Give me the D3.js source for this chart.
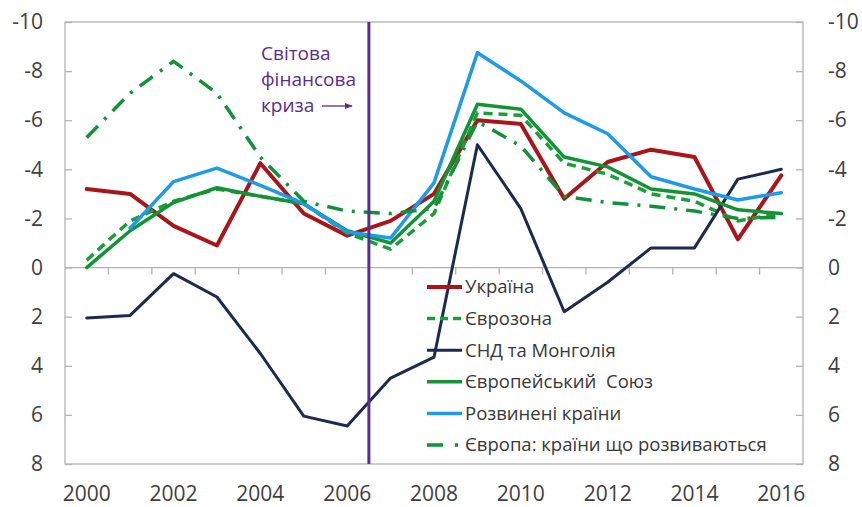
<!DOCTYPE html>
<html>
<head>
<meta charset="utf-8">
<script src="https://cdn.jsdelivr.net/npm/d3@7"></script>
<style>
  html, body { margin: 0; padding: 0; background: #fff; }
  svg { display: block; font-family: "Open Sans", "Noto Sans", sans-serif; }
</style>
</head>
<body>
<svg id="chart" width="862" height="507"></svg>
<script>
// ---- Data ----
const years = [2000,2001,2002,2003,2004,2005,2006,2007,2008,2009,2010,2011,2012,2013,2014,2015,2016];
const xTickYears = [2000,2002,2004,2006,2008,2010,2012,2014,2016];
const yTicks = [-10,-8,-6,-4,-2,0,2,4,6,8];

const ukraine   = [-3.2,-3.0,-1.7,-0.9,-4.25,-2.2,-1.3,-1.9,-3.0,-6.0,-5.85,-2.8,-4.3,-4.8,-4.5,-1.15,-3.75];
const eurozone  = [-0.3,-1.9,-2.7,-3.2,-2.9,-2.6,-1.4,-0.75,-2.2,-6.3,-6.2,-4.25,-3.8,-3.0,-2.7,-1.9,-2.2];
const cis       = [2.05,1.95,0.25,1.2,3.5,6.05,6.45,4.5,3.65,-5.0,-2.4,1.8,0.6,-0.8,-0.8,-3.6,-4.0];
const eu        = [0.0,-1.5,-2.65,-3.25,-2.9,-2.6,-1.5,-1.0,-2.7,-6.65,-6.45,-4.5,-4.1,-3.2,-3.0,-2.35,-2.2];
const developed = [null,-1.6,-3.5,-4.05,-3.35,-2.6,-1.45,-1.2,-3.45,-8.75,-7.6,-6.3,-5.45,-3.7,-3.2,-2.75,-3.05];
const emerging  = [-5.3,-7.1,-8.4,-7.1,-4.5,-2.7,-2.3,-2.2,-2.4,-5.95,-4.95,-2.9,-2.65,-2.5,-2.3,-2.0,-2.05];

const seriesNames = ["Україна","Єврозона","СНД та Монголія","Європейський  Союз","Розвинені країни","Європа: країни що розвиваються"];
const seriesValues = [ukraine, eurozone, cis, eu, developed, emerging];
const crisisPosition = 2006.5;
const annotationLines = ["Світова","фінансова","криза"];

// ---- Styles ----
const styles = [
  {color:"#a8161b", width:4,   dash:null},
  {color:"#1a9e3a", width:3.5, dash:"9,6"},
  {color:"#1b2a4e", width:3,   dash:null},
  {color:"#129336", width:3.5, dash:null},
  {color:"#1e9be8", width:3.5, dash:null},
  {color:"#11913a", width:3.5, dash:"16,9,3,9"}
];
const legendDash = [null,"8,5",null,null,null,"16,12,3,12"];

const svg = d3.select("#chart");
const L = 65, R = 803, T = 22, B = 464;

const x = d3.scaleBand().domain(years).range([L, R]).paddingInner(0).paddingOuter(0);
const cx = d => x(d) + x.bandwidth()/2;
const y = d3.scaleLinear().domain([-10, 8]).range([T, B]);

// border
svg.append("rect").attr("x",L).attr("y",T).attr("width",R-L).attr("height",B-T)
  .attr("fill","none").attr("stroke","#b3b3b3").attr("stroke-width",1.3);

// zero line
svg.append("line").attr("x1",L).attr("x2",R).attr("y1",y(0)).attr("y2",y(0))
  .attr("stroke","#b3b3b3").attr("stroke-width",1.3);

// x ticks at band boundaries (downward from zero line)
svg.append("g").selectAll("line").data(years.slice(1)).join("line")
  .attr("x1",d=>x(d)).attr("x2",d=>x(d))
  .attr("y1",y(0)).attr("y2",y(0)+7)
  .attr("stroke","#b3b3b3").attr("stroke-width",1.3);

// Y axes
const fmt = d => String(d);
const leftAxis = svg.append("g").attr("transform",`translate(${L},0)`)
  .call(d3.axisLeft(y).tickValues(yTicks).tickSize(-7).tickPadding(22).tickFormat(fmt));
const rightAxis = svg.append("g").attr("transform",`translate(${R},0)`)
  .call(d3.axisRight(y).tickValues(yTicks).tickSize(-7).tickPadding(25).tickFormat(fmt));
[leftAxis, rightAxis].forEach(g => {
  g.select(".domain").remove();
  g.selectAll(".tick line").attr("stroke","#b3b3b3").attr("stroke-width",1.3);
  g.selectAll(".tick text").attr("fill","#404040").style("font-size","21px")
    .style("font-family","'Open Sans', sans-serif");
});

// X labels
svg.append("g").selectAll("text").data(xTickYears).join("text")
  .attr("x",d=>cx(d)).attr("y",501)
  .attr("text-anchor","middle").attr("fill","#404040")
  .style("font-size","21px").text(d=>d);

// Lines
const line = d3.line().defined(d => d.v !== null).x(d => cx(d.year)).y(d => y(d.v));
seriesValues.forEach((vals, i) => {
  const data = years.map((yr, j) => ({year: yr, v: vals[j]}));
  const p = svg.append("path").datum(data).attr("d", line)
    .attr("fill","none").attr("stroke",styles[i].color)
    .attr("stroke-width",styles[i].width)
    .attr("stroke-linejoin","round").attr("stroke-linecap", styles[i].dash ? "butt" : "round");
  if (styles[i].dash) p.attr("stroke-dasharray", styles[i].dash);
});

// crisis line
const xc = d3.scaleLinear().domain([2000, 2016]).range([cx(2000), cx(2016)]);
svg.append("line").attr("x1",xc(crisisPosition)).attr("x2",xc(crisisPosition))
  .attr("y1",T).attr("y2",B).attr("stroke","#5a2d91").attr("stroke-width",3);

// annotation
const ann = svg.append("g").attr("fill","#5a2d91").style("font-size","19px");
annotationLines.forEach((t,i) => {
  ann.append("text").attr("x",261).attr("y",60 + i*26).text(t);
});
svg.append("defs").append("marker").attr("id","arr").attr("viewBox","0 0 10 10")
  .attr("refX",9).attr("refY",5).attr("markerWidth",6).attr("markerHeight",6)
  .attr("orient","auto").append("path").attr("d","M0,1 L10,5 L0,9 z").attr("fill","#5a2d91");
svg.append("line").attr("x1",322).attr("x2",352).attr("y1",106).attr("y2",106)
  .attr("stroke","#5a2d91").attr("stroke-width",1.3).attr("marker-end","url(#arr)");

// Legend
const lg = svg.append("g");
seriesNames.forEach((name, i) => {
  const yy = 287 + i*31.6;
  const ln = lg.append("line").attr("x1",427).attr("x2",462).attr("y1",yy).attr("y2",yy)
    .attr("stroke",styles[i].color).attr("stroke-width",styles[i].width);
  if (legendDash[i]) ln.attr("stroke-dasharray",legendDash[i]);
  lg.append("text").attr("x",465).attr("y",yy).attr("dy","0.35em")
    .attr("fill","#383838").style("font-size","18.5px").style("white-space","pre")
    .attr("xml:space","preserve").text(name);
});
</script>
</body>
</html>
